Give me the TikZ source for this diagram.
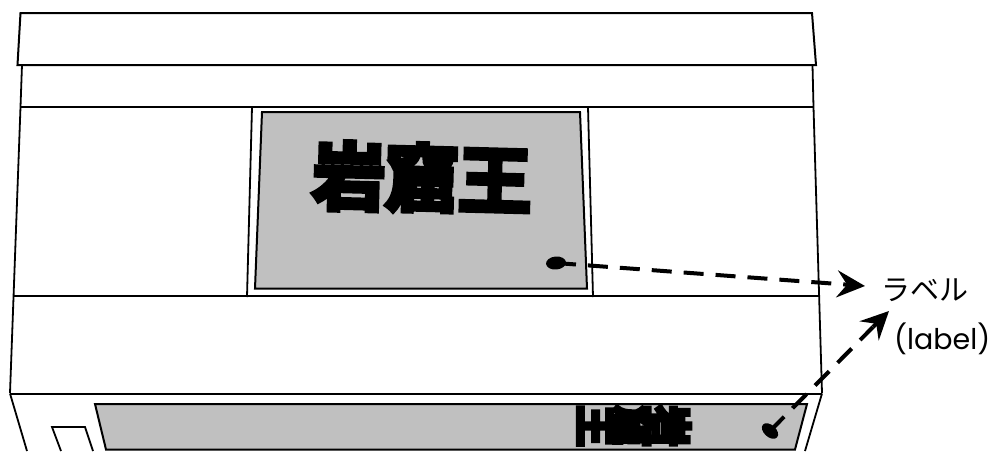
\documentclass[tikz,border=0pt]{standalone}
\usepackage{fontspec}
\usetikzlibrary{arrows.meta,shapes.geometric}
\newfontfamily\heavy[FakeBold=7]{Noto Sans CJK JP Bold}
\newfontfamily\heavysmall[FakeBold=10]{Noto Sans CJK JP Bold}
\newfontfamily\lab{Noto Sans CJK JP}
\newfontfamily\latinlab{Poppins}
\definecolor{panel}{RGB}{192,192,192}
\tikzset{
  body/.style={draw=black,line width=1.8pt,line join=miter},
  edge/.style={draw=black,line width=2pt},
  pan/.style={draw=black,line width=2pt,fill=panel},
  lead/.style={draw=black,line width=4pt,dash pattern=on 20pt off 12pt},
  headonly/.style={draw=black,line width=4pt,-{Stealth[length=28pt,width=27pt,inset=10pt]}},
  dotnode/.style={fill=black,ellipse,inner sep=0pt},
  labeltext/.style={inner sep=0pt,anchor=west},
  bigname/.style={font=\heavy\fontsize{73}{73}\selectfont,inner sep=0pt},
  smallname/.style={font=\heavysmall\fontsize{41}{41}\selectfont,inner sep=0pt,rotate=-90}
}
\begin{document}
\begin{tikzpicture}[x=1pt,y=-1pt]
\useasboundingbox (0,0) rectangle (991,451);
% roof
\draw[edge] (20.5,13) -- (812,13) -- (816,65) -- (17.5,65) -- cycle;
% upper body
\draw[body] (22,65) -- (20.5,107) -- (10,393);
\draw[body] (812.5,65) -- (813.5,107) -- (822,393);
\draw[edge] (20.5,107) -- (813.5,107);
\draw[body] (14,296) -- (820,296);
\draw[edge] (10,393.5) -- (822,393.5);
% lower body
\draw[body] (10,393.5) -- (27,451);
\draw[body] (822,393.5) -- (805,451);
% small window
\draw[body] (61,451) -- (52,427) -- (85,427) -- (93,451);
% window frame
\draw[body] (252,107) -- (247,297);
\draw[body] (588,107) -- (593,297);
% panels
\draw[pan] (262,112) -- (580,112) -- (587,288.5) -- (255,288.5) -- cycle;
\clip (0,0) rectangle (991,451);
\draw[pan] (95,404) -- (807,404) -- (795,449.5) -- (106,449.5) -- cycle;
% names
\node[bigname,rotate=-1.5] (title) at (422,178) {岩窟王};
\node[smallname] (m3) at (595,426) {王};
\node[smallname] (m2) at (633,426) {窟};
\node[smallname] (m1) at (671,426) {岩};
% labels
\node[labeltext,font=\lab\fontsize{29}{29}\selectfont] (la) at (881,290) {ラベル};
\node[labeltext,font=\latinlab\fontsize{28.5}{28.5}\selectfont] (lb) at (894,339) {(label)};
% leaders
\node[dotnode,minimum width=20pt,minimum height=13pt,rotate=5] (d1) at (556,263) {};
\node[dotnode,minimum width=19pt,minimum height=12pt,rotate=-42] (d2) at (770,431) {};
\coordinate (t1) at (865,286);
\coordinate (t2) at (889,311);
\coordinate (s1) at (845,284.5);
\coordinate (s2) at (873,327);
\draw[lead] (d1.center) -- (s1);
\draw[lead] (d2.center) -- (s2);
\draw[headonly] (s1) -- (t1);
\draw[headonly] (s2) -- (t2);
\end{tikzpicture}
\end{document}
